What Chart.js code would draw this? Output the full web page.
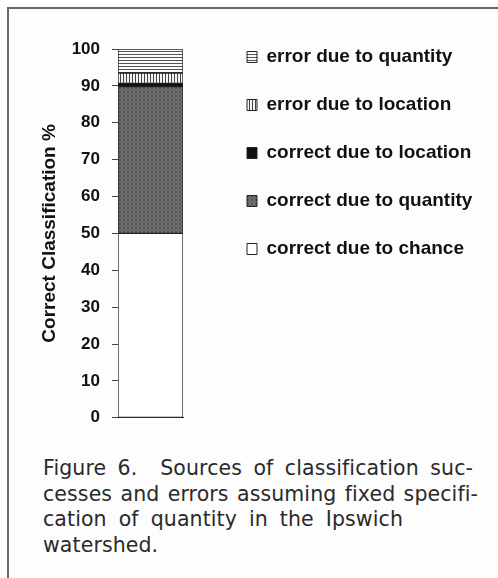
<html>
<head>
    <script src="https://cdn.jsdelivr.net/npm/chart.js@4/dist/chart.umd.min.js"></script>
    <title>Figure 6</title>
    <style>
        body { margin: 0; background: #fdfdfd; width: 498px; height: 578px; overflow: hidden; position: relative; }
        #frame { position: absolute; left: 7px; top: 7px; width: 600px; height: 600px; border-top: 2px solid #6a6a6a; border-left: 2px solid #6a6a6a; }
        #wrap { position: absolute; left: 0; top: 0; width: 480px; height: 440px; }
        #caption { position: absolute; left: 43px; top: 456px; font-family: "DejaVu Sans", sans-serif; font-size: 20.5px; letter-spacing: 0.1px; line-height: 25.5px; color: #2a2a2a; }
        #caption div { text-align: justify; text-align-last: justify; white-space: nowrap; }
    </style>
</head>
<body>
<div id="frame"></div>
<div id="wrap"><canvas id="fig6"></canvas></div>
<div id="caption">
    <div style="width:430px">Figure 6.&nbsp; Sources of classification suc-</div>
    <div style="width:435px">cesses and errors assuming fixed specifi-</div>
    <div style="width:360px">cation of quantity in the Ipswich</div>
    <div style="text-align-last:left">watershed.</div>
</div>

<script>
    // data (percent of cells)
    var categories = ['Ipswich'];
    var seriesNames = ['correct due to chance', 'correct due to quantity', 'correct due to location', 'error due to location', 'error due to quantity'];
    var chance = [50];
    var quantityOk = [39.8];
    var locationOk = [0.9];
    var locationErr = [2.8];
    var quantityErr = [6.5];
    var yTicks = [0, 10, 20, 30, 40, 50, 60, 70, 80, 90, 100];

    // small fill patterns, like the printed hatching
    function makePattern(w, h, paint) {
        var c = document.createElement('canvas');
        c.width = w;
        c.height = h;
        var g = c.getContext('2d');
        paint(g);
        return g.createPattern(c, 'repeat');
    }

    var hStripes = makePattern(3, 3, g => {
        g.fillStyle = '#fafafa'; g.fillRect(0, 0, 3, 3);
        g.fillStyle = '#555'; g.fillRect(0, 0, 3, 1);
    });
    var vStripes = makePattern(3, 3, g => {
        g.fillStyle = '#f4f4f4'; g.fillRect(0, 0, 3, 3);
        g.fillStyle = '#444'; g.fillRect(0, 0, 1, 3);
    });
    var stipple = makePattern(4, 4, g => {
        var mask = ['abca', 'cbab', 'bacb', 'acba'];
        var cols = {a: '#505050', b: '#6a6a6a', c: '#838383'};
        for (var y = 0; y < 4; y++) {
            for (var x = 0; x < 4; x++) {
                g.fillStyle = cols[mask[y][x]];
                g.fillRect(x, y, 1, 1);
            }
        }
    });

    // move the legend to where the figure has it
    var legendPlace = {
        id: 'legendPlace',
        afterLayout(chart) {
            var lg = chart.legend;
            var h = lg.bottom - lg.top;
            lg.left = 218;
            lg.right = 480;
            lg.top = 18.5;
            lg.bottom = 18.5 + h;
        }
    };

    new Chart(document.getElementById('fig6'), {
        type: 'bar',
        data: {
            labels: categories,
            datasets: [
                { label: seriesNames[0], data: chance, backgroundColor: '#ffffff' },
                { label: seriesNames[1], data: quantityOk, backgroundColor: stipple },
                { label: seriesNames[2], data: locationOk, backgroundColor: '#111111' },
                { label: seriesNames[3], data: locationErr, backgroundColor: vStripes },
                { label: seriesNames[4], data: quantityErr, backgroundColor: hStripes }
            ].map(d => Object.assign(d, {
                borderColor: '#222',
                borderWidth: 1,
                borderSkipped: false,
                barPercentage: 1,
                categoryPercentage: 1
            }))
        },
        plugins: [legendPlace],
        options: {
            responsive: true,
            maintainAspectRatio: false,
            animation: false,
            layout: { padding: { left: 30, top: 49, bottom: 20, right: 296 } },
            plugins: {
                tooltip: { enabled: false },
                legend: {
                    position: 'right',
                    align: 'start',
                    reverse: true,
                    maxWidth: 1,
                    labels: {
                        boxWidth: 10,
                        boxHeight: 11,
                        padding: 29,
                        color: '#111',
                        font: { family: 'Liberation Sans', size: 19, weight: 'bold' }
                    }
                }
            },
            scales: {
                x: {
                    stacked: true,
                    ticks: { display: false },
                    grid: { display: false },
                    border: { display: true, color: '#333', width: 1 },
                    afterFit: s => { s.height = 0; }
                },
                y: {
                    stacked: true,
                    min: 0,
                    max: 100,
                    afterBuildTicks: s => { s.ticks = yTicks.map(v => ({ value: v })); },
                    afterFit: s => { s.width = 88; },
                    ticks: {
                        padding: 12,
                        color: '#111',
                        font: { family: 'Liberation Sans', size: 17, weight: 'bold' }
                    },
                    grid: { drawOnChartArea: false, tickLength: 6, color: '#444' },
                    border: { display: true, color: '#333', width: 1 },
                    title: {
                        display: true,
                        text: 'Correct Classification %',
                        color: '#111',
                        padding: { top: 8, bottom: 0 },
                        font: { family: 'Liberation Sans', size: 19, weight: 'bold' }
                    }
                }
            }
        }
    });
</script>
</body>
</html>
